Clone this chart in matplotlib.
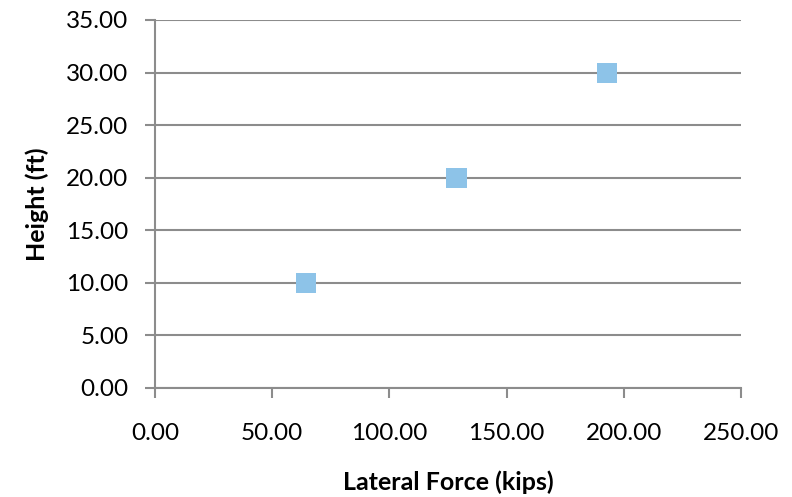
import matplotlib
matplotlib.use("Agg")
import matplotlib.pyplot as plt
from matplotlib.ticker import FormatStrFormatter

lateral_force = [64.3, 128.6, 192.9]
height = [10.0, 20.0, 30.0]
x_ticks = [0, 50, 100, 150, 200, 250]
y_ticks = [0, 5, 10, 15, 20, 25, 30, 35]

plt.rcParams['font.family'] = ['Lato', 'DejaVu Sans']

W, H = 792, 497
fig = plt.figure(figsize=(W / 100, H / 100), dpi=100)
ax = fig.add_axes([155 / W, (H - 388) / H, 586 / W, 368 / H])

grid_color = '#8c8c8c'
ax.scatter(lateral_force, height, marker='s', s=210, color='#8dc3e8',
           edgecolors='none', zorder=3)

ax.set_xlim(0, 250)
ax.set_ylim(0, 35)
ax.set_xticks(x_ticks)
ax.set_yticks(y_ticks)
ax.xaxis.set_major_formatter(FormatStrFormatter('%.2f'))
ax.yaxis.set_major_formatter(FormatStrFormatter('%.2f'))

ax.yaxis.grid(True, color=grid_color, linewidth=1.5)
ax.set_axisbelow(True)
for side in ('top', 'right'):
    ax.spines[side].set_visible(False)
for side in ('left', 'bottom'):
    ax.spines[side].set_color(grid_color)
    ax.spines[side].set_linewidth(1.5)

ax.tick_params(axis='both', colors=grid_color, width=1.5, length=7,
               labelcolor='black', labelsize=17.5)
ax.tick_params(axis='x', pad=18)
ax.tick_params(axis='y', pad=12)

ax.set_xlabel('Lateral Force (kips)', fontsize=18, fontweight='bold', va='center')
ax.set_ylabel('Height (ft)', fontsize=18, fontweight='bold', va='center')
ax.xaxis.set_label_coords(0.5, -(482 - 388) / 368)
ax.yaxis.set_label_coords(-(155 - 37) / 586, 0.5)

fig.savefig('out.png', dpi=100)
